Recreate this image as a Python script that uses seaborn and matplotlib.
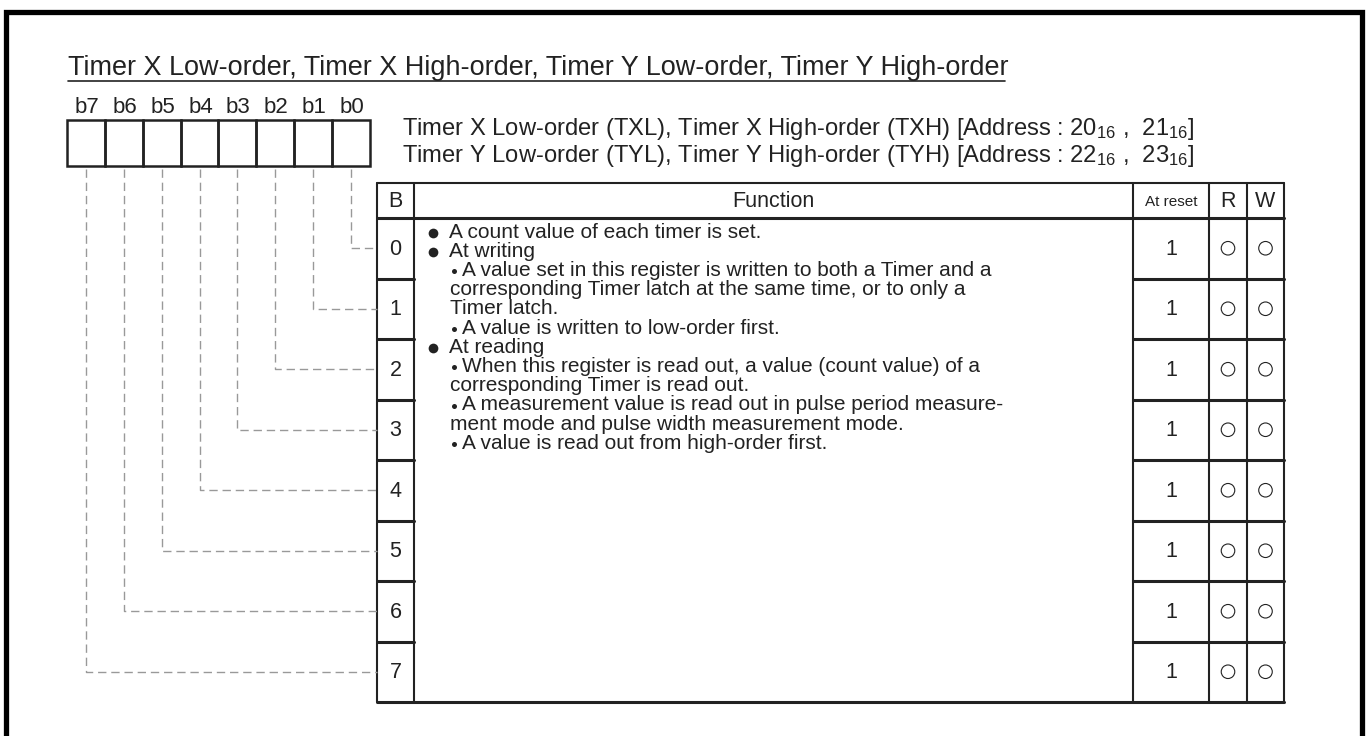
import matplotlib
matplotlib.use('Agg')
import matplotlib.pyplot as plt
import seaborn as sns
import pandas as pd
import numpy as np

# Datos del registro
title = "Timer X Low-order, Timer X High-order, Timer Y Low-order, Timer Y High-order"
bit_labels = ['b7', 'b6', 'b5', 'b4', 'b3', 'b2', 'b1', 'b0']
register_lines = [
    "Timer X Low-order (TXL), Timer X High-order (TXH) [Address : $20_{16}$ ,  $21_{16}$]",
    "Timer Y Low-order (TYL), Timer Y High-order (TYH) [Address : $22_{16}$ ,  $23_{16}$]",
]
header = ['B', 'Function', 'At reset', 'R', 'W']
bits = [0, 1, 2, 3, 4, 5, 6, 7]
reset_values = ['1', '1', '1', '1', '1', '1', '1', '1']
readable = [True] * 8
writable = [True] * 8
# nivel 0 = viñeta grande, 1 = viñeta pequeña, 2 = continuación
function_lines = [
    (0, "A count value of each timer is set."),
    (0, "At writing"),
    (1, "A value set in this register is written to both a Timer and a"),
    (2, "corresponding Timer latch at the same time, or to only a"),
    (2, "Timer latch."),
    (1, "A value is written to low-order first."),
    (0, "At reading"),
    (1, "When this register is read out, a value (count value) of a"),
    (2, "corresponding Timer is read out."),
    (1, "A measurement value is read out in pulse period measure-"),
    (2, "ment mode and pulse width measurement mode."),
    (1, "A value is read out from high-order first."),
]

# Estilo
sns.set_theme(style='white')
plt.rcParams['font.family'] = ['Liberation Sans', 'DejaVu Sans']
plt.rcParams['mathtext.default'] = 'regular'
ink = '#222222'
dash_col = '#999999'

fig = plt.figure(figsize=(13.7, 7.36), dpi=100)
ax = fig.add_axes([0, 0, 1, 1])

fig.canvas.draw()
renderer = fig.canvas.get_renderer()

def fit(t, width):
    w = t.get_window_extent(renderer).width
    t.set_fontsize(t.get_fontsize() * width / w)
    return t

# Marco exterior
ax.plot([6.5, 6.5, 1362.5, 1362.5], [745, 11.5, 11.5, 745], color='black', lw=3.8,
        solid_joinstyle='miter')

# Titulo subrayado
t = ax.text(68, 75, title, fontsize=18, va='baseline', ha='left', color=ink)
fit(t, 937)
ax.plot([68, 1005], [81, 81], color=ink, lw=1.2)

# Casillas de bits
box_left, box_w, box_top, box_bot = 67, 303 / 8, 120, 166
for i, lab in enumerate(bit_labels):
    cx = box_left + (i + 0.5) * box_w
    ax.text(cx + 1, 113, lab, fontsize=16, ha='center', va='baseline', color=ink)
    ax.add_patch(plt.Rectangle((box_left + i * box_w, box_top), box_w, box_bot - box_top,
                               fill=False, ec=ink, lw=1.8))

# Texto de direcciones
t1 = ax.text(402, 135, register_lines[0], fontsize=15, va='baseline', ha='left', color=ink)
fit(t1, 796)
ax.text(402, 162, register_lines[1], fontsize=t1.get_fontsize(), va='baseline', ha='left', color=ink)

# Tabla
cols = [377, 414, 1133, 1209, 1247, 1284]
top, head_bot, row_h = 183, 218, 60.5
bottom = head_bot + row_h * len(bits)
for x in cols:
    ax.plot([x, x], [top, bottom], color=ink, lw=1.5)
# la columna Function no tiene lineas entre filas
ax.plot([cols[0], cols[-1]], [top, top], color=ink, lw=1.5)
ax.plot([cols[0], cols[-1]], [head_bot, head_bot], color=ink, lw=2.2)
ax.plot([cols[0], cols[-1]], [bottom, bottom], color=ink, lw=2.2)
for k in range(1, len(bits)):
    y = head_bot + k * row_h
    ax.plot([cols[0], cols[1]], [y, y], color=ink, lw=2.2)
    ax.plot([cols[2], cols[-1]], [y, y], color=ink, lw=2.2)

centers = [(cols[j] + cols[j + 1]) / 2 for j in range(5)]
head_y = (top + head_bot) / 2 + 1
for j, h in enumerate(header):
    ax.text(centers[j], head_y, h, fontsize=11 if h == 'At reset' else 15.5,
            ha='center', va='center', color=ink)

row_y = [head_bot + (b + 0.5) * row_h for b in bits]
for b, y, rv in zip(bits, row_y, reset_values):
    ax.text(centers[0], y + 1, str(b), fontsize=15.5, ha='center', va='center', color=ink)
    ax.text(centers[2], y + 1, rv, fontsize=15.5, ha='center', va='center', color=ink)

# Circulos R/W
rw = pd.DataFrame({
    'x': [centers[3]] * sum(readable) + [centers[4]] * sum(writable),
    'y': [y for y, r in zip(row_y, readable) if r] + [y for y, w in zip(row_y, writable) if w],
})
sns.scatterplot(data=rw, x='x', y='y', ax=ax, marker='o', s=95, facecolor='none',
                edgecolor=ink, linewidth=0.8, legend=False)

# Lineas discontinuas de conexion
for i in range(8):
    bit = 7 - i
    cx = box_left + (i + 0.5) * box_w
    y = row_y[bit]
    ax.plot([cx, cx, cols[0]], [169, y, y], color=dash_col, lw=1.0, ls=(0, (6, 3.5)))

# Texto de la columna Function
body_size = 15
line_y0, line_dy = 232, 19.2
for k, (lvl, txt) in enumerate(function_lines):
    y = line_y0 + k * line_dy
    if lvl == 0:
        ax.plot(433, y + 1, marker='o', ms=7, color=ink, mec='none')
        ax.text(449, y, txt, fontsize=body_size, ha='left', va='center', color=ink)
    elif lvl == 1:
        ax.plot(454, y + 1, marker='o', ms=3.6, color=ink, mec='none')
        ax.text(462, y, txt, fontsize=body_size, ha='left', va='center', color=ink)
    else:
        ax.text(450, y, txt, fontsize=body_size, ha='left', va='center', color=ink)

ax.set_xlim(0, 1370)
ax.set_ylim(736, 0)
ax.axis('off')

fig.savefig('out.png', dpi=100, facecolor='white')
